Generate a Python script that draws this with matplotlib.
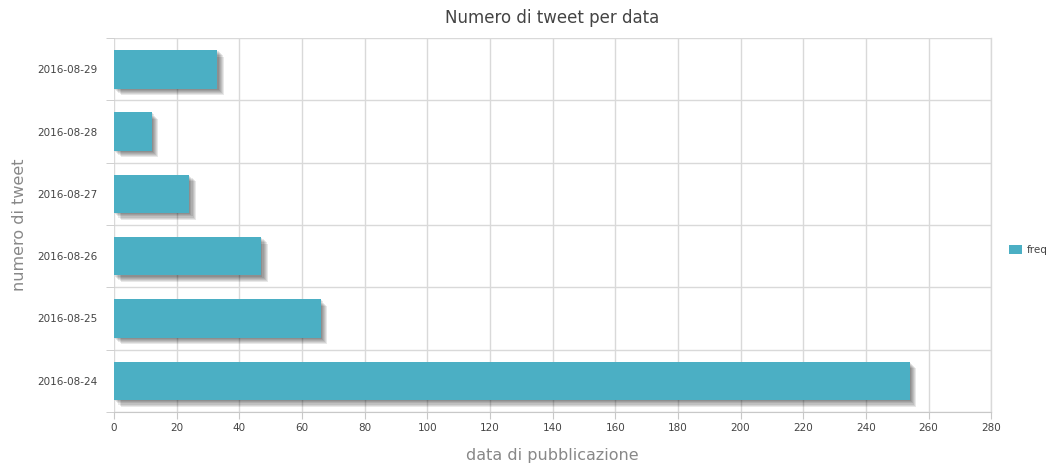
import matplotlib
matplotlib.use("Agg")
import matplotlib.pyplot as plt
import matplotlib.patheffects as pe
import numpy as np

# Tweets per publication date
dates = ["2016-08-24", "2016-08-25", "2016-08-26", "2016-08-27", "2016-08-28", "2016-08-29"]
freq = [254, 66, 47, 24, 12, 33]
x_ticks = list(range(0, 281, 20))

bar_color = "#4bafc4"
grid_color = "#d9d9d9"

plt.rcParams["font.family"] = ["DejaVu Sans"]

fig = plt.figure(figsize=(10.56, 4.67), dpi=100)
ax = fig.add_axes([0.108, 0.1178, 0.8306, 0.8008])

y = np.arange(len(dates))

# soft drop shadow built from several offset translucent copies
shadow = [pe.SimplePatchShadow(offset=(o, -o), shadow_rgbFace="#000000", alpha=0.09)
          for o in (0.8, 1.6, 2.4, 3.2, 4.0, 4.8)]
bars = ax.barh(y, freq, height=0.62, color=bar_color, zorder=3, label="freq")
for b in bars:
    b.set_path_effects(shadow + [pe.Normal()])

ax.set_xlim(0, 280)
ax.set_ylim(-0.5, len(dates) - 0.5)
ax.set_xticks(x_ticks)
ax.set_yticks(y)
ax.set_yticklabels(dates)
ax.set_yticks(np.arange(-0.5, len(dates), 1.0), minor=True)

ax.grid(True, axis="x", color=grid_color, linewidth=1, zorder=0)
ax.grid(True, axis="y", which="minor", color=grid_color, linewidth=1, zorder=0)
ax.axvline(x_ticks[-1], color=grid_color, linewidth=1, zorder=0, clip_on=False)
ax.set_axisbelow(True)

for side in ("top", "right"):
    ax.spines[side].set_visible(False)
ax.spines["left"].set_visible(False)
ax.spines["bottom"].set_color("#c8c8c8")

ax.tick_params(axis="x", length=5, color="#c8c8c8", labelsize=7.5, labelcolor="#444444", pad=3)
ax.tick_params(axis="y", which="major", length=0, labelsize=7.5, labelcolor="#444444", pad=12)
ax.tick_params(axis="y", which="minor", length=6, color="#c8c8c8")

ax.set_title("Numero di tweet per data", fontsize=12, color="#444444", pad=11)
ax.set_xlabel("data di pubblicazione", fontsize=11.5, color="#888888", labelpad=11)
ax.set_ylabel("numero di tweet", fontsize=11.5, color="#888888", labelpad=7)

leg = fig.legend(handles=[bars[0]], labels=["freq"], loc="center left",
                 bbox_to_anchor=(0.947, 0.465), frameon=False, fontsize=7.5,
                 handlelength=1.2, handleheight=1.0, handletextpad=0.5)
for t in leg.get_texts():
    t.set_color("#444444")
for h in leg.legend_handles:
    h.set_path_effects([])

fig.savefig("out.png", dpi=100)
